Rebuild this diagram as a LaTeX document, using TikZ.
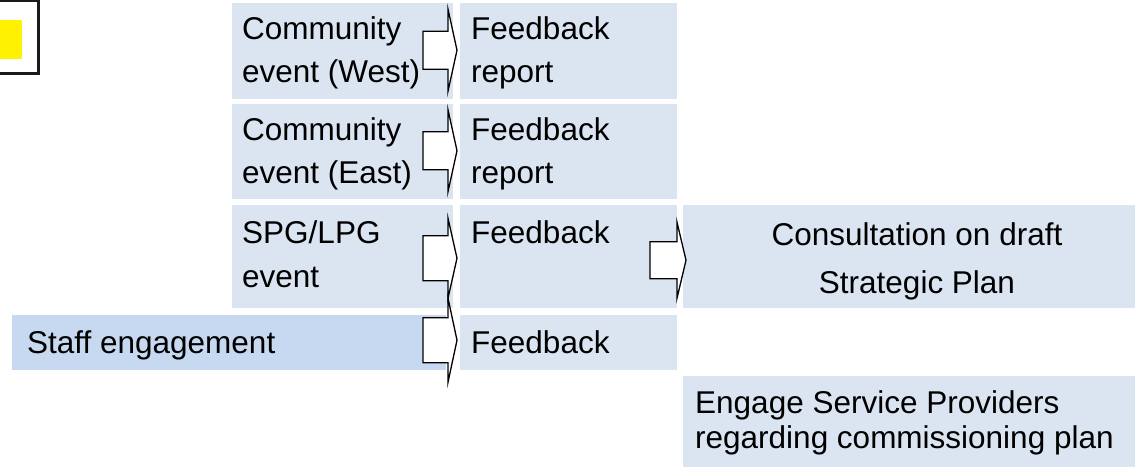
\documentclass[tikz,border=0pt]{standalone}
\usepackage{fontspec}
\setmainfont{Liberation Sans}
\usetikzlibrary{calc}

\definecolor{boxlight}{HTML}{DBE5F1}
\definecolor{boxstaff}{HTML}{C6D9F1}
\definecolor{framegray}{HTML}{1A1A1A}

\tikzset{
  panel/.style={fill=boxlight, draw=none, inner sep=0pt, anchor=north west},
  staffpanel/.style={panel, fill=boxstaff},
  txt/.style={inner sep=0pt, anchor=base west, font=\fontsize{31.5}{38}\selectfont},
  ctxt/.style={txt, anchor=base},
  barrow/.style={draw=black, fill=white, line width=1.3pt, line join=miter},
}

% block arrow: tip, total length, head length, half shaft, half head
\newcommand\blockarrow[5]{%
  \draw[barrow] (#1) -- ++({-#3},{-#5}) -- ++(0,{#5-#4}) -- ++({#3-#2},0)
    -- ++(0,{2*#4}) -- ++({#2-#3},0) -- ++(0,{#5-#4}) -- cycle;}

\begin{document}
\begin{tikzpicture}[x=1pt, y=-1pt]
  \useasboundingbox (0,0) rectangle (1135,467);

  % legend swatch in the corner
  \node[fill=yellow, inner sep=0pt, anchor=north west, minimum width=24pt, minimum height=39pt] (swatch) at (-2,20) {};
  \draw[framegray, line width=2.2pt] (-10,1.1) -- (38.5,1.1) -- (38.5,73.5) -- (-10,73.5);

  % panels
  \node[panel, minimum width=221pt, minimum height=96pt]  (cw)   at (232,3)   {};
  \node[panel, minimum width=217pt, minimum height=96pt]  (fw)   at (460,3)   {};
  \node[panel, minimum width=221pt, minimum height=95pt]  (ce)   at (232,104) {};
  \node[panel, minimum width=217pt, minimum height=95pt]  (fe)   at (460,104) {};
  \node[panel, minimum width=221pt, minimum height=103pt] (spg)  at (232,205) {};
  \node[panel, minimum width=217pt, minimum height=103pt] (fs)   at (460,205) {};
  \node[panel, minimum width=470pt, minimum height=103pt] (cons) at (683,205) {};
  \node[staffpanel, minimum width=434pt, minimum height=55pt] (staff) at (12,315) {};
  \node[panel, minimum width=217pt, minimum height=55pt]  (fst)  at (460,315) {};
  \node[panel, minimum width=470pt, minimum height=91pt]  (eng)  at (683,376) {};

  % arrows between panels
  \coordinate (t1) at ($(fw.west)+(-3,-1)$);
  \coordinate (t2) at ($(fe.west)+(-3,-1)$);
  \coordinate (t3) at ($(fs.west)+(-3,1.5)$);
  \coordinate (t4) at ($(fst.west)+(-3,-2.5)$);
  \coordinate (t5) at ($(cons.west)+(3,3.5)$);
  \blockarrow{t1}{34}{9}{19}{41}
  \blockarrow{t2}{34}{9}{19}{41}
  \blockarrow{t3}{34}{9}{22.5}{40}
  \blockarrow{t4}{34}{9}{22.5}{42}
  \blockarrow{t5}{36}{9}{18.5}{38}

  % panel texts
  \node[txt] (cw1) at ($(cw.north west)+(10,36)$) {Community};
  \node[txt] (cw2) at ($(cw.north west)+(10,79)$) {event (West)};
  \node[txt] (fw1) at ($(fw.north west)+(11,36)$) {Feedback};
  \node[txt] (fw2) at ($(fw.north west)+(11,79)$) {report};

  \node[txt] (ce1) at ($(ce.north west)+(10,36)$) {Community};
  \node[txt] (ce2) at ($(ce.north west)+(10,79)$) {event (East)};
  \node[txt] (fe1) at ($(fe.north west)+(11,36)$) {Feedback};
  \node[txt] (fe2) at ($(fe.north west)+(11,79)$) {report};

  \node[txt] (spg1) at ($(spg.north west)+(10,38)$) {SPG/LPG};
  \node[txt] (spg2) at ($(spg.north west)+(10,82)$) {event};
  \node[txt] (fs1)  at ($(fs.north west)+(11,38)$) {Feedback};

  \node[ctxt] (cons1) at (917,245) {Consultation on draft};
  \node[ctxt] (cons2) at (917,293) {Strategic Plan};

  \node[txt] (staff1) at ($(staff.north west)+(15,38)$) {Staff engagement};
  \node[txt] (fst1)   at ($(fst.north west)+(11,38)$) {Feedback};

  \node[txt] (eng1) at ($(eng.north west)+(12,37)$) {Engage Service Providers};
  \node[txt] (eng2) at ($(eng.north west)+(12,72)$) {regarding commissioning plan};
\end{tikzpicture}
\end{document}
